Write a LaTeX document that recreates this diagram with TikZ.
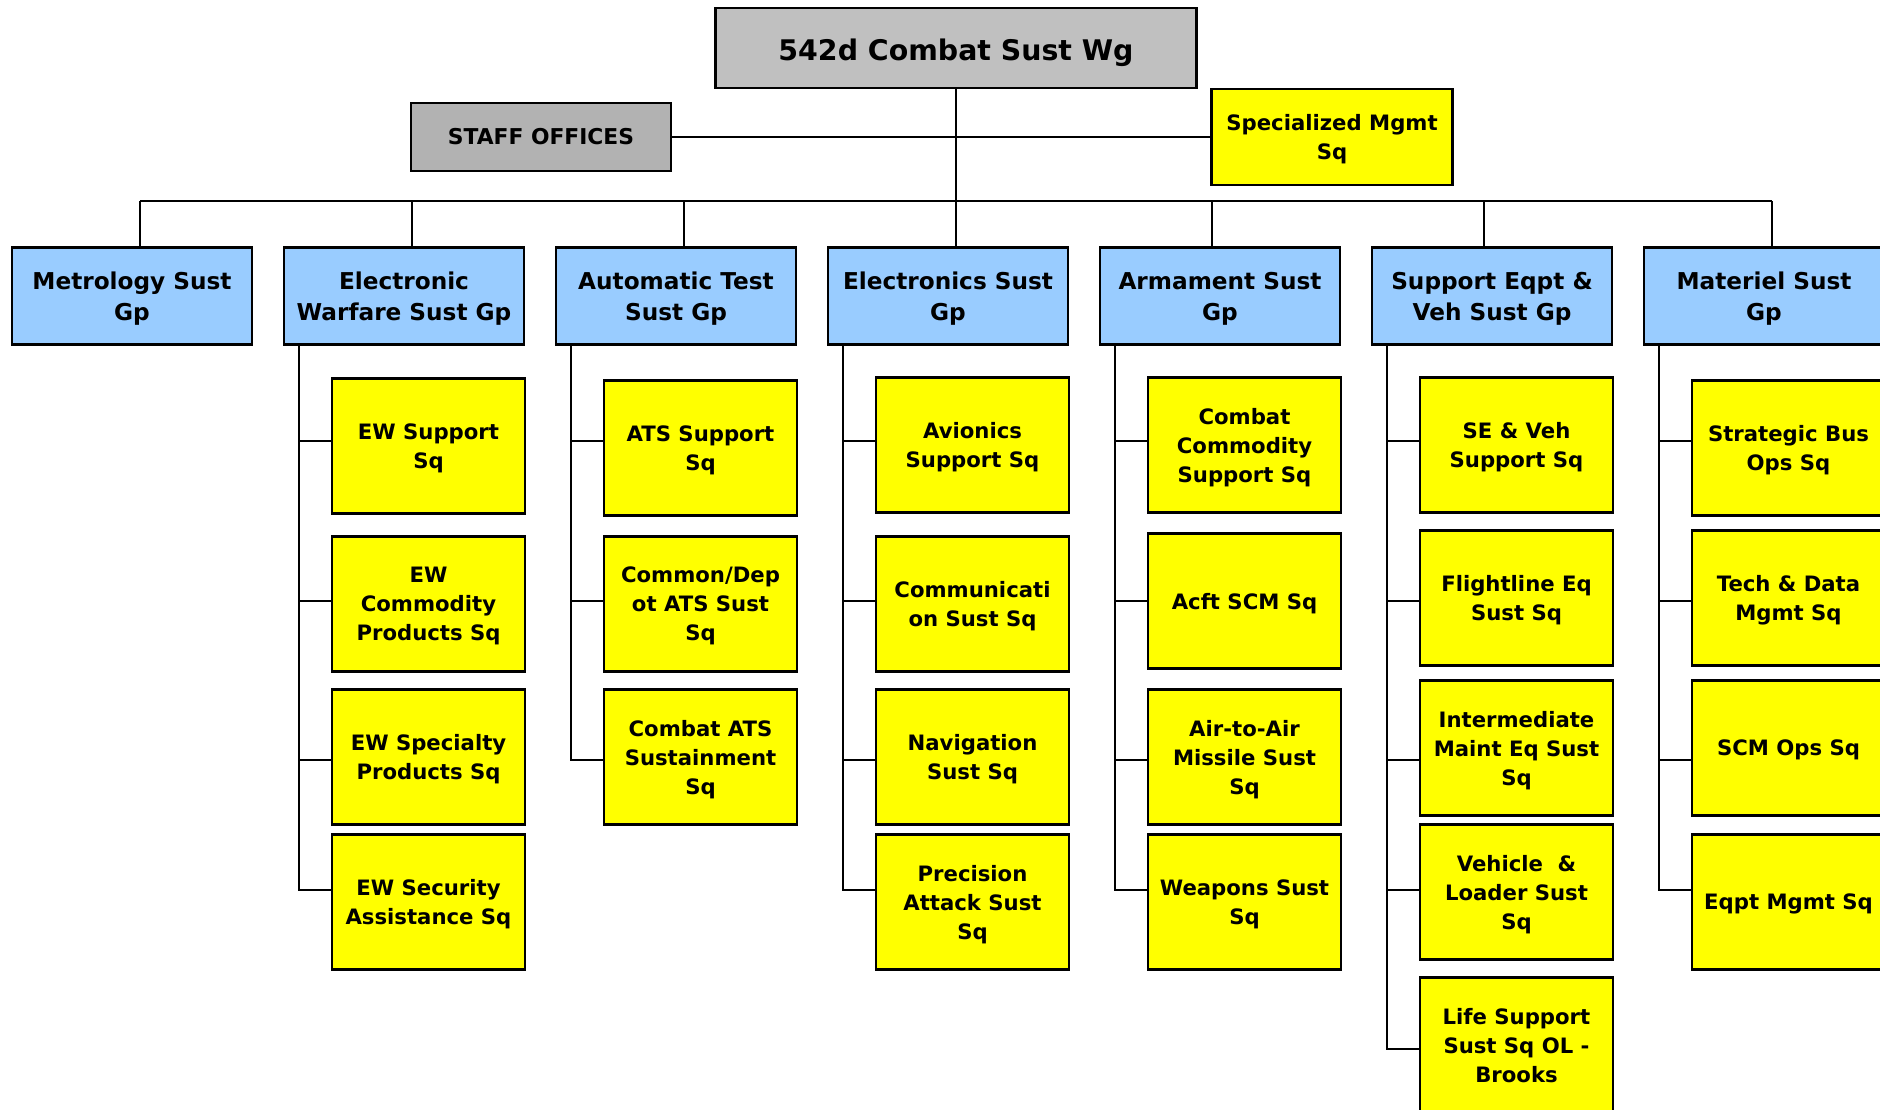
\documentclass[tikz,border=0pt]{standalone}
\usepackage{fontspec}
\setmainfont{DejaVu Sans}
\definecolor{wggray}{HTML}{C0C0C0}
\definecolor{staffgray}{HTML}{B2B2B2}
\definecolor{grpblue}{HTML}{99CCFF}
\definecolor{sqyellow}{HTML}{FFFF00}

\begin{document}
\begin{tikzpicture}[x=0.5pt, y=-0.5pt,
    every node/.style={draw, align=center, line width=1.2pt, inner sep=1pt},
    wgbox/.style={fill=wggray, minimum width=240.5pt, minimum height=40pt,
      font=\bfseries\fontsize{14.2}{17}\selectfont,
      execute at begin node={\rule{0pt}{15.8pt}}},
    staffbox/.style={fill=staffgray, minimum width=130pt, minimum height=34pt,
      font=\bfseries\fontsize{10.9}{13}\selectfont},
    grp/.style={fill=grpblue, minimum width=120pt, minimum height=48.5pt,
      font=\bfseries\fontsize{11.6}{15.5}\selectfont, text depth=-5.6pt},
    sq/.style={fill=sqyellow, minimum width=96.5pt, minimum height=67.5pt,
      font=\bfseries\fontsize{10.6}{14.5}\selectfont, text depth=-4.6pt},
    link/.style={line width=1pt}]
  \useasboundingbox (0,0) rectangle (1880,1109);
  \clip (0,0) rectangle (1880,1109);

  % wing and staff
  \node[wgbox] (wg) at (956,48) {542d Combat Sust Wg};
  \node[staffbox] (staff) at (541,137) {STAFF OFFICES};
  \node[sq, minimum width=120.5pt, minimum height=48pt] (spec) at (1332,137) {Specialized Mgmt\\Sq};

  % groups
  \node[grp] (met)  at (132,296)  {Metrology Sust\\Gp};
  \node[grp] (ew)   at (404,296)  {Electronic\\Warfare Sust Gp};
  \node[grp] (ats)  at (676,296)  {Automatic Test\\Sust Gp};
  \node[grp] (elec) at (948,296)  {Electronics Sust\\Gp};
  \node[grp] (arm)  at (1220,296) {Armament Sust\\Gp};
  \node[grp] (sup)  at (1492,296) {Support Eqpt \&\\Veh Sust Gp};
  \node[grp] (mat)  at (1764,296) {Materiel Sust\\Gp};

  % squadrons
  \node[sq] (ew1) at (428.5,446) {EW Support\\Sq};
  \node[sq] (ew2) at (428.5,604) {EW\\Commodity\\Products Sq};
  \node[sq] (ew3) at (428.5,757) {EW Specialty\\Products Sq};
  \node[sq] (ew4) at (428.5,902) {EW Security\\Assistance Sq};

  \node[sq] (ats1) at (700.5,448) {ATS Support\\Sq};
  \node[sq] (ats2) at (700.5,604) {Common/Dep\\ot ATS Sust\\Sq};
  \node[sq] (ats3) at (700.5,757) {Combat ATS\\Sustainment\\Sq};

  \node[sq] (elec1) at (972.5,445) {Avionics\\Support Sq};
  \node[sq] (elec2) at (972.5,604) {Communicati\\on Sust Sq};
  \node[sq] (elec3) at (972.5,757) {Navigation\\Sust Sq};
  \node[sq] (elec4) at (972.5,902) {Precision\\Attack Sust\\Sq};

  \node[sq] (arm1) at (1244.5,445) {Combat\\Commodity\\Support Sq};
  \node[sq] (arm2) at (1244.5,601) {Acft SCM Sq};
  \node[sq] (arm3) at (1244.5,757) {Air-to-Air\\Missile Sust\\Sq};
  \node[sq] (arm4) at (1244.5,902) {Weapons Sust\\Sq};

  \node[sq] (sup1) at (1516.5,445)  {SE \& Veh\\Support Sq};
  \node[sq] (sup2) at (1516.5,598)  {Flightline Eq\\Sust Sq};
  \node[sq] (sup3) at (1516.5,748)  {Intermediate\\Maint Eq Sust\\Sq};
  \node[sq] (sup4) at (1516.5,892)  {Vehicle \ \&\\Loader Sust\\Sq};
  \node[sq] (sup5) at (1516.5,1045) {Life Support\\Sust Sq OL -\\Brooks};

  \node[sq] (mat1) at (1788.5,448) {Strategic Bus\\Ops Sq};
  \node[sq] (mat2) at (1788.5,598) {Tech \& Data\\Mgmt Sq};
  \node[sq] (mat3) at (1788.5,748) {SCM Ops Sq};
  \node[sq] (mat4) at (1788.5,902) {Eqpt Mgmt Sq};

  % top links
  \coordinate (bus) at (0,201);
  \draw[link] (wg.south) -- (wg.south |- elec.north);
  \draw[link] (staff.east) -- (spec.west);
  \draw[link] ([xshift=4pt]met.north |- bus) -- ([xshift=4pt]mat.north |- bus);
  \draw[link] ([xshift=4pt]met.north) -- ([xshift=4pt]met.north |- bus);
  \draw[link] ([xshift=4pt]ew.north) -- ([xshift=4pt]ew.north |- bus);
  \draw[link] ([xshift=4pt]ats.north) -- ([xshift=4pt]ats.north |- bus);
  \draw[link] ([xshift=-4pt]arm.north) -- ([xshift=-4pt]arm.north |- bus);
  \draw[link] ([xshift=-4pt]sup.north) -- ([xshift=-4pt]sup.north |- bus);
  \draw[link] ([xshift=4pt]mat.north) -- ([xshift=4pt]mat.north |- bus);

  % rows of the squadron links
  \coordinate (r1) at (0,441);
  \coordinate (r2) at (0,601);
  \coordinate (r3) at (0,760);
  \coordinate (r4) at (0,890);
  \coordinate (r5) at (0,1049);

  % group spines
  \draw[link] ([xshift=8pt]ew.south west) |- (ew1.west |- r1);
  \draw[link] ([xshift=8pt]ew.south west) |- (ew2.west |- r2);
  \draw[link] ([xshift=8pt]ew.south west) |- (ew3.west |- r3);
  \draw[link] ([xshift=8pt]ew.south west) |- (ew4.west |- r4);

  \draw[link] ([xshift=8pt]ats.south west) |- (ats1.west |- r1);
  \draw[link] ([xshift=8pt]ats.south west) |- (ats2.west |- r2);
  \draw[link] ([xshift=8pt]ats.south west) |- (ats3.west |- r3);

  \draw[link] ([xshift=8pt]elec.south west) |- (elec1.west |- r1);
  \draw[link] ([xshift=8pt]elec.south west) |- (elec2.west |- r2);
  \draw[link] ([xshift=8pt]elec.south west) |- (elec3.west |- r3);
  \draw[link] ([xshift=8pt]elec.south west) |- (elec4.west |- r4);

  \draw[link] ([xshift=8pt]arm.south west) |- (arm1.west |- r1);
  \draw[link] ([xshift=8pt]arm.south west) |- (arm2.west |- r2);
  \draw[link] ([xshift=8pt]arm.south west) |- (arm3.west |- r3);
  \draw[link] ([xshift=8pt]arm.south west) |- (arm4.west |- r4);

  \draw[link] ([xshift=8pt]sup.south west) |- (sup1.west |- r1);
  \draw[link] ([xshift=8pt]sup.south west) |- (sup2.west |- r2);
  \draw[link] ([xshift=8pt]sup.south west) |- (sup3.west |- r3);
  \draw[link] ([xshift=8pt]sup.south west) |- (sup4.west |- r4);
  \draw[link] ([xshift=8pt]sup.south west) |- (sup5.west |- r5);

  \draw[link] ([xshift=8pt]mat.south west) |- (mat1.west |- r1);
  \draw[link] ([xshift=8pt]mat.south west) |- (mat2.west |- r2);
  \draw[link] ([xshift=8pt]mat.south west) |- (mat3.west |- r3);
  \draw[link] ([xshift=8pt]mat.south west) |- (mat4.west |- r4);
\end{tikzpicture}
\end{document}
